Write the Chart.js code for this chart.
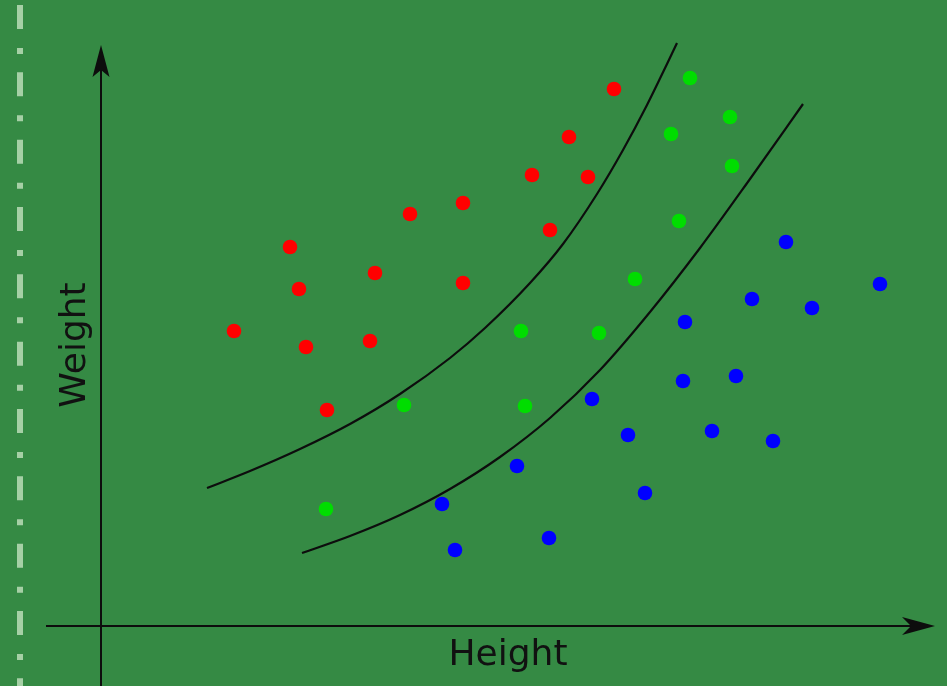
<!DOCTYPE html>
<html>
<head>
<meta charset="utf-8">
<script src="https://cdn.jsdelivr.net/npm/chart.js@4/dist/chart.umd.min.js"></script>
<style>
  html, body { margin: 0; padding: 0; background: #358a44; }
  #wrap { width: 947px; height: 686px; position: relative; }
</style>
</head>
<body>
<div id="wrap"><canvas id="c" width="947" height="686"></canvas></div>
<script>
// Data (Height, Weight) in arbitrary units, origin at the axes crossing
const redHeight   = [51.3, 46.8, 43.1, 48.7, 30.9, 36.2, 44.9, 18.9, 27.4, 36.2, 19.8, 13.3, 20.5, 26.9, 22.6];
const redWeight   = [53.7, 48.9, 45.1, 44.9, 41.2, 42.3, 39.6, 37.9, 35.3, 34.3, 33.7, 29.5, 27.9, 28.5, 21.6];
const greenHeight = [58.9, 57.0, 62.9, 63.1, 57.8, 53.4, 42.0, 49.8, 30.3, 42.4, 22.5];
const greenWeight = [54.8, 49.2, 50.9, 46.0, 40.5, 34.7, 29.5, 29.3, 22.1, 22.0, 11.7];
const blueHeight  = [68.5, 77.9, 65.1, 71.1, 58.4, 58.2, 63.5, 49.1, 52.7, 61.1, 67.2, 41.6, 54.4, 34.1, 35.4, 44.8];
const blueWeight  = [38.4, 34.2, 32.7, 31.8, 30.4, 24.5, 25.0, 22.7, 19.1, 19.5, 18.5, 16.0, 13.3, 12.2, 7.6, 8.8];
// Decision boundary curves
const boundary1Height = [10.6, 14.9, 19.9, 24.9, 29.9, 34.9, 38.4, 42.9, 46.2, 49.6, 52.2, 54.6, 56.6, 57.6];
const boundary1Weight = [13.8, 15.5, 17.7, 20.2, 23.2, 26.8, 29.8, 34.3, 38.2, 43.2, 47.6, 52.1, 56.2, 58.3];
const boundary2Height = [20.1, 24.9, 29.9, 34.9, 39.9, 44.9, 49.9, 54.9, 59.9, 64.9, 70.2];
const boundary2Weight = [7.3, 9.0, 11.1, 13.7, 16.9, 20.8, 25.6, 31.4, 37.8, 44.7, 52.2];
// Axis titles
const xTitle = "Height";
const yTitle = "Weight";

const zip = (xs, ys) => xs.map((x, i) => ({ x: x, y: ys[i] }));

const bgPlugin = {
  id: 'bg',
  beforeDraw(chart) {
    const ctx = chart.ctx;
    ctx.save();
    ctx.fillStyle = '#358a44';
    ctx.fillRect(0, 0, chart.width, chart.height);
    // dash-dot decoration at the left edge
    ctx.strokeStyle = '#a6d0a6';
    ctx.lineWidth = 6;
    ctx.setLineDash([24, 19, 6, 18.33]);
    ctx.beginPath();
    ctx.moveTo(20, 5);
    ctx.lineTo(20, chart.height);
    ctx.stroke();
    ctx.setLineDash([]);
    ctx.restore();
  },
  beforeDatasetsDraw(chart) {
    const ctx = chart.ctx;
    const xs = chart.scales.x, ys = chart.scales.y;
    const ox = xs.getPixelForValue(0), oy = ys.getPixelForValue(0);
    const topY = ys.getPixelForValue(58.1);
    const rightX = xs.getPixelForValue(83.4);
    const leftX = xs.getPixelForValue(-5.5);
    ctx.save();
    ctx.strokeStyle = '#0d0d0d';
    ctx.fillStyle = '#0d0d0d';
    ctx.lineWidth = 2;
    // vertical axis
    ctx.beginPath();
    ctx.moveTo(ox, chart.height);
    ctx.lineTo(ox, topY + 20);
    ctx.stroke();
    // horizontal axis
    ctx.beginPath();
    ctx.moveTo(leftX, oy);
    ctx.lineTo(rightX - 20, oy);
    ctx.stroke();
    // arrow heads
    ctx.beginPath();
    ctx.moveTo(ox, topY);
    ctx.lineTo(ox - 8.5, topY + 32);
    ctx.lineTo(ox, topY + 25);
    ctx.lineTo(ox + 8.5, topY + 32);
    ctx.closePath();
    ctx.fill();
    ctx.beginPath();
    ctx.moveTo(rightX, oy);
    ctx.lineTo(rightX - 33, oy - 9);
    ctx.lineTo(rightX - 24, oy);
    ctx.lineTo(rightX - 33, oy + 9);
    ctx.closePath();
    ctx.fill();
    // titles
    ctx.font = '36px "DejaVu Sans"';
    ctx.fillStyle = '#111';
    ctx.textAlign = 'center';
    ctx.textBaseline = 'alphabetic';
    ctx.fillText(xTitle, 508, 665);
    ctx.translate(85, 345);
    ctx.rotate(-Math.PI / 2);
    ctx.fillText(yTitle, 0, 0);
    ctx.restore();
  }
};

const curveStyle = {
  type: 'line', showLine: true, pointRadius: 0, borderColor: '#0d0d0d',
  borderWidth: 2.2, fill: false, cubicInterpolationMode: 'monotone'
};
const dotStyle = { pointRadius: 7.3, pointBorderWidth: 0, pointHoverRadius: 7.3 };

new Chart(document.getElementById('c'), {
  type: 'scatter',
  data: {
    datasets: [
      Object.assign({ data: zip(boundary1Height, boundary1Weight) }, curveStyle),
      Object.assign({ data: zip(boundary2Height, boundary2Weight) }, curveStyle),
      Object.assign({ label: 'red', data: zip(redHeight, redWeight), backgroundColor: '#ff0000', borderColor: '#ff0000' }, dotStyle),
      Object.assign({ label: 'green', data: zip(greenHeight, greenWeight), backgroundColor: '#00dd00', borderColor: '#00dd00' }, dotStyle),
      Object.assign({ label: 'blue', data: zip(blueHeight, blueWeight), backgroundColor: '#0000ff', borderColor: '#0000ff' }, dotStyle)
    ]
  },
  options: {
    responsive: false,
    animation: false,
    layout: { padding: 0, autoPadding: false },
    plugins: { legend: { display: false }, tooltip: { enabled: false } },
    scales: {
      x: { type: 'linear', display: false, min: -10.1, max: 84.6 },
      y: { type: 'linear', display: false, min: -6.0, max: 62.6 }
    }
  },
  plugins: [bgPlugin]
});
</script>
</body>
</html>
